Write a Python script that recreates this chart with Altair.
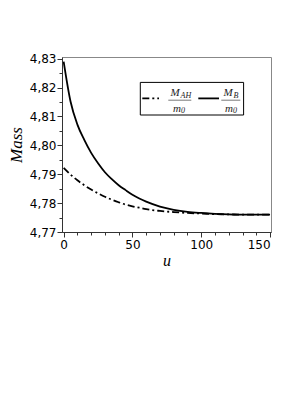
import altair as alt
import pandas as pd

u = [0, 5, 10, 15, 20, 25, 30, 35, 40, 45, 50, 55, 60, 70, 80, 90, 100, 110, 120, 130, 140, 150]
m_b = [4.8290, 4.8152, 4.8072, 4.8019, 4.7974, 4.7938, 4.7907, 4.7883, 4.7862, 4.7845, 4.7829,
       4.7816, 4.7805, 4.7788, 4.7777, 4.7770, 4.7766, 4.7763, 4.7761, 4.7760, 4.7760, 4.7760]
m_ah = [4.7922, 4.7899, 4.7879, 4.7862, 4.7847, 4.7834, 4.7822, 4.7812, 4.7803, 4.7795, 4.7789,
        4.7784, 4.7779, 4.7773, 4.7769, 4.7766, 4.7764, 4.7762, 4.7761, 4.7760, 4.7760, 4.7760]

x_ticks = list(range(0, 151, 10))
y_ticks = [4.77, 4.775, 4.78, 4.785, 4.79, 4.795, 4.80, 4.805, 4.81, 4.815, 4.82, 4.825, 4.83]

df = pd.DataFrame({"u": u + u,
                   "mass": m_ah + m_b,
                   "series": ["AH"] * len(u) + ["B"] * len(u)})
one = pd.DataFrame({"k": [0]})

W, H = 209, 175
AX = "#333333"

x_enc = alt.X("u:Q", scale=alt.Scale(domain=[-1.2, 150.7], nice=False, zero=False),
              axis=alt.Axis(values=x_ticks, title="u", grid=False,
                            labelExpr="datum.value % 50 === 0 ? datum.label : ''",
                            tickSize={"condition": {"test": "datum.value % 50 === 0", "value": 5}, "value": 3},
                            labelFont="DejaVu Sans", labelFontSize=12, labelColor="#000",
                            labelPadding=2, domainColor=AX, tickColor=AX,
                            titleFont="Liberation Serif", titleFontStyle="italic",
                            titleFontWeight="normal", titleFontSize=16, titlePadding=2,
                            titleColor="#000"))
y_enc = alt.Y("mass:Q", scale=alt.Scale(domain=[4.77, 4.8306], nice=False, zero=False),
              axis=alt.Axis(values=y_ticks, title="Mass", grid=False,
                            labelExpr="abs(datum.value*100 - round(datum.value*100)) < 0.01 ? replace(format(datum.value, '.2f'), '.', ',') : ''",
                            tickSize={"condition": {"test": "abs(datum.value*100 - round(datum.value*100)) < 0.01", "value": 5}, "value": 3},
                            labelFont="DejaVu Sans", labelFontSize=12, labelColor="#000",
                            labelPadding=1, domainColor=AX, tickColor=AX,
                            titleFont="Liberation Serif", titleFontStyle="italic",
                            titleFontWeight="normal", titleFontSize=17, titlePadding=4,
                            titleColor="#000"))

base = alt.Chart(df)
line_ah = base.transform_filter("datum.series == 'AH'").mark_line(
    color="#000", strokeWidth=1.8, strokeDash=[7, 3, 2, 3], interpolate="monotone"
).encode(x=x_enc, y=y_enc)
line_b = base.transform_filter("datum.series == 'B'").mark_line(
    color="#000", strokeWidth=1.8, interpolate="monotone"
).encode(x=x_enc, y=y_enc)

# legend (drawn manually)
leg_box = alt.Chart(one).mark_rect(fill="white", stroke="#000", strokeWidth=1).encode(
    x=alt.value(78.3), x2=alt.value(181.6), y=alt.value(25.4), y2=alt.value(58))
leg_ah = alt.Chart(one).mark_rule(color="#000", strokeWidth=1.8, strokeDash=[7, 3, 2, 3]).encode(
    x=alt.value(80.3), x2=alt.value(97), y=alt.value(41.4))
leg_b = alt.Chart(one).mark_rule(color="#000", strokeWidth=1.8).encode(
    x=alt.value(136.3), x2=alt.value(157), y=alt.value(41.4))
bar1 = alt.Chart(one).mark_rule(color="#555", strokeWidth=0.8).encode(
    x=alt.value(106.3), x2=alt.value(129.3), y=alt.value(43.2))
bar2 = alt.Chart(one).mark_rule(color="#555", strokeWidth=0.8).encode(
    x=alt.value(159.3), x2=alt.value(178.3), y=alt.value(43.2))


def txt(s, x, y, size, align="left"):
    return alt.Chart(one).mark_text(text=s, font="Liberation Serif", fontStyle="italic",
                                    fontSize=size, color="#222", align=align,
                                    baseline="alphabetic").encode(x=alt.value(x), y=alt.value(y))


texts = [
    txt("M", 108.5, 38.5, 11), txt("AH", 118.5, 40.8, 8),
    txt("m", 111, 54.5, 11), txt("0", 119, 56.2, 8),
    txt("M", 161.5, 38.5, 11), txt("B", 171.5, 40.8, 8),
    txt("m", 163, 54.5, 11), txt("0", 171, 56.2, 8),
]

chart = alt.layer(line_ah, line_b, leg_box, leg_ah, leg_b, bar1, bar2, *texts).properties(
    width=W, height=H,
    autosize=alt.AutoSizeParams(type="none"),
    padding={"left": 54, "top": 49, "right": 10, "bottom": 60},
).configure_view(stroke="#888888", strokeWidth=1)

chart.save("out.html", embed_options={"renderer": "svg", "actions": False})
